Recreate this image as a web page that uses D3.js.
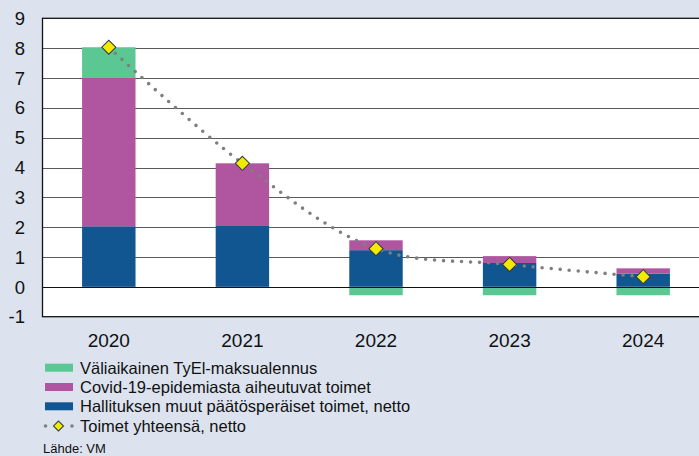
<!DOCTYPE html>
<html>
<head>
<meta charset="utf-8">
<script src="https://cdn.jsdelivr.net/npm/d3@7"></script>
<style>
  html, body { margin: 0; padding: 0; background: #dce3ef; }
  svg { display: block; font-family: "Liberation Sans", Arial, sans-serif; }
</style>
</head>
<body>
<svg id="chart" width="699" height="456"></svg>
<script>
// Finances: measures by year, stacked components and net total
const years = ["2020", "2021", "2022", "2023", "2024"];
const tyelValues = [1.03, 0, -0.28, -0.28, -0.28];
const covidValues = [4.97, 2.10, 0.33, 0.23, 0.18];
const otherValues = [2.03, 2.04, 1.23, 0.80, 0.44];
const totalValues = [8.03, 4.14, 1.28, 0.75, 0.34];
const yTicks = [-1, 0, 1, 2, 3, 4, 5, 6, 7, 8, 9];

const seriesNames = [
  "Väliaikainen TyEl-maksualennus",
  "Covid-19-epidemiasta aiheutuvat toimet",
  "Hallituksen muut päätösperäiset toimet, netto",
  "Toimet yhteensä, netto"
];
const colors = { tyel: "#5bc792", covid: "#b0559f", other: "#115691" };

const svg = d3.select("#chart");
const plot = { left: 42, right: 710, top: 18.3, bottom: 316.7 };

const x = d3.scaleBand().domain(years).range([plot.left, plot.right]).paddingInner(0.6).paddingOuter(0.3);
const y = d3.scaleLinear().domain([-1, 9]).range([plot.bottom, plot.top]);

// plot background
svg.append("rect")
  .attr("x", plot.left).attr("y", plot.top)
  .attr("width", plot.right - plot.left).attr("height", plot.bottom - plot.top)
  .attr("fill", "#ffffff");

// horizontal gridlines
svg.append("g").selectAll("line").data(yTicks.filter(d => d !== 0 && d !== -1 && d !== 9))
  .join("line")
  .attr("x1", plot.left).attr("x2", plot.right)
  .attr("y1", d => Math.round(y(d)) + 0.5).attr("y2", d => Math.round(y(d)) + 0.5)
  .attr("stroke", "#5a5a5a").attr("stroke-width", 1);

// stacked bars: positive parts stacked upward from zero, negatives downward
const stackData = years.map((yr, i) => ({ yr, other: otherValues[i], covid: covidValues[i], tyel: tyelValues[i] }));
const keys = ["other", "covid", "tyel"];
const series = d3.stack().keys(keys).offset(d3.stackOffsetDiverging)(stackData);

svg.append("g").selectAll("g").data(series).join("g")
  .attr("fill", s => colors[s.key])
  .selectAll("rect").data(s => s.filter(d => d[1] !== d[0]))
  .join("rect")
  .attr("x", d => x(d.data.yr))
  .attr("width", x.bandwidth())
  .attr("y", d => y(Math.max(d[0], d[1])))
  .attr("height", d => Math.abs(y(d[0]) - y(d[1])));

// zero line and frame
svg.append("line")
  .attr("x1", plot.left).attr("x2", plot.right)
  .attr("y1", Math.round(y(0)) + 0.5).attr("y2", Math.round(y(0)) + 0.5)
  .attr("stroke", "#111").attr("stroke-width", 1);
svg.append("rect")
  .attr("x", plot.left + 0.5).attr("y", plot.top)
  .attr("width", plot.right - plot.left).attr("height", plot.bottom - plot.top)
  .attr("fill", "none").attr("stroke", "#111").attr("stroke-width", 1.3);

// total line: smooth dotted curve through diamonds
const cx = d => x(d) + x.bandwidth() / 2;
const linePts = years.map((yr, i) => [cx(yr), y(totalValues[i])]);
svg.append("path")
  .attr("d", d3.line().curve(d3.curveCatmullRom.alpha(0.5))(linePts))
  .attr("fill", "none")
  .attr("stroke", "#7f7f7f").attr("stroke-width", 3.6)
  .attr("stroke-linecap", "round").attr("stroke-dasharray", "0 9");

svg.append("g").selectAll("path").data(years)
  .join("path")
  .attr("d", d3.symbol().type(d3.symbolSquare).size(100))
  .attr("transform", (yr, i) => `translate(${cx(yr)},${y(totalValues[i])}) rotate(45)`)
  .attr("fill", "#f2ea00").attr("stroke", "#2b3a4a").attr("stroke-width", 1);

// y axis labels
svg.append("g").selectAll("text").data(yTicks).join("text")
  .attr("x", 25).attr("y", d => y(d))
  .attr("dy", "0.36em")
  .attr("text-anchor", "end")
  .attr("font-size", 18.5).attr("fill", "#111")
  .text(d => d);

// x axis labels
svg.append("g").selectAll("text").data(years).join("text")
  .attr("x", d => cx(d)).attr("y", 347)
  .attr("text-anchor", "middle")
  .attr("font-size", 19).attr("fill", "#111")
  .text(d => d);

// legend
const legend = svg.append("g");
const rowY = [367.7, 387, 406.3, 426];
[colors.tyel, colors.covid, colors.other].forEach((c, i) => {
  legend.append("rect").attr("x", 45).attr("y", rowY[i] - 4).attr("width", 28).attr("height", 8).attr("fill", c);
});
legend.append("circle").attr("cx", 45.5).attr("cy", rowY[3]).attr("r", 1.8).attr("fill", "#7f7f7f");
legend.append("circle").attr("cx", 72).attr("cy", rowY[3]).attr("r", 1.8).attr("fill", "#7f7f7f");
legend.append("path")
  .attr("d", d3.symbol().type(d3.symbolSquare).size(50))
  .attr("transform", `translate(58.5,${rowY[3]}) rotate(45)`)
  .attr("fill", "#f2ea00").attr("stroke", "#2b3a4a").attr("stroke-width", 1);
legend.selectAll("text").data(seriesNames).join("text")
  .attr("x", 80).attr("y", (d, i) => rowY[i])
  .attr("dy", "0.36em")
  .attr("font-size", 16.5).attr("fill", "#111")
  .text(d => d);

// source note
svg.append("text").attr("x", 43).attr("y", 453).attr("font-size", 13).attr("fill", "#111").text("Lähde: VM");
</script>
</body>
</html>
